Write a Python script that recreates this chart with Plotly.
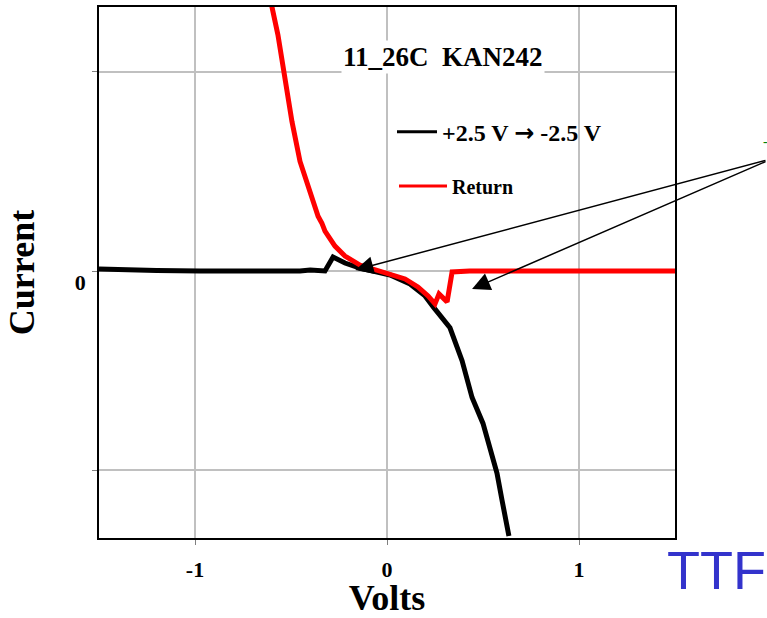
import plotly.graph_objects as go

# Black sweep: +2.5 V -> -2.5 V
sweep_v = [-1.5, -1.39, -1.2, -0.974, -0.75, -0.557, -0.453, -0.40, -0.323, -0.281,
           -0.219, -0.141, -0.0625, 0.016, 0.12, 0.198, 0.245, 0.286, 0.328, 0.391,
           0.443, 0.5, 0.536, 0.573, 0.599, 0.625, 0.635]
sweep_i = [0.01, 0.005, 0.002, 0.0, 0.0, -0.005, 0.0, 0.005, 0.0, 0.07,
           0.04, 0.015, 0.0, -0.02, -0.065, -0.125, -0.185, -0.235, -0.285, -0.45,
           -0.635, -0.765, -0.9, -1.015, -1.15, -1.265, -1.33]

# Red return sweep
ret_v = [-0.615, -0.599, -0.568, -0.542, -0.495, -0.453, -0.401, -0.359, -0.339, -0.323,
         -0.271, -0.219, -0.141, -0.0625, 0.016, 0.094, 0.161, 0.214, 0.25, 0.271,
         0.313, 0.339, 0.43, 0.8, 1.1, 1.5]
ret_i = [1.45, 1.325, 1.185, 1.015, 0.75, 0.55, 0.39, 0.275, 0.24, 0.2,
         0.125, 0.075, 0.03, 0.005, -0.015, -0.04, -0.08, -0.125, -0.165, -0.115,
         -0.155, -0.005, 0.0, 0.0, 0.0, 0.0]

x_ticks = [-1, 0, 1]
x_labels = ["-1", "0", "1"]
y_ticks = [-1, 0, 1]
y_labels = ["", "0", ""]

serif = "Liberation Serif, Times New Roman, serif"
arrow_span = '<span style="font-family:DejaVu Sans;font-weight:bold;font-size:24px">\u2192</span>'

fig = go.Figure()
fig.add_trace(go.Scatter(x=sweep_v, y=sweep_i, mode="lines",
                         line=dict(color="black", width=5), showlegend=False))
fig.add_trace(go.Scatter(x=ret_v, y=ret_i, mode="lines",
                         line=dict(color="#ff0000", width=5), showlegend=False))
# legend entries
fig.add_trace(go.Scatter(x=[None], y=[None], mode="lines",
                         name="+2.5 V " + arrow_span + " -2.5 V",
                         line=dict(color="black", width=3), legend="legend"))
fig.add_trace(go.Scatter(x=[None], y=[None], mode="lines", name="Return",
                         line=dict(color="#ff0000", width=3), legend="legend2"))

W, H = 767, 618
L, R, T, B = 99, 675, 5, 538

def px(xp):
    return (xp - L) / (R - L)

def py(yp):
    return (B - yp) / (B - T)

bold_tick = dict(family=serif, size=22, color="black", weight="bold")

fig.update_layout(
    width=W, height=H,
    margin=dict(l=L, r=W - R, t=T, b=H - B),
    paper_bgcolor="white", plot_bgcolor="white",
    font=dict(family=serif, color="black"),
    xaxis=dict(range=[-1.5, 1.5], tickvals=x_ticks, ticktext=x_labels,
               showgrid=True, gridcolor="#c0c0c0", gridwidth=2, zeroline=False,
               showline=True, linecolor="black", linewidth=1.5, mirror=True,
               ticks="outside", ticklen=5, tickcolor="#808080",
               tickfont=bold_tick, ticklabelstandoff=6,
               title=dict(text="<b>Volts</b>", font=dict(family=serif, size=36), standoff=0)),
    yaxis=dict(range=[-1.34, 1.325], tickvals=y_ticks, ticktext=y_labels,
               showgrid=True, gridcolor="#c0c0c0", gridwidth=2, zeroline=False,
               showline=True, linecolor="black", linewidth=1.5, mirror=True,
               ticks="outside", ticklen=5, tickcolor="#808080",
               tickfont=bold_tick, ticklabelstandoff=2, ticklabelshift=11,
               title=dict(text="<b>Current</b>", font=dict(family=serif, size=36), standoff=29)),
    legend=dict(x=px(392), y=py(108), xanchor="left", yanchor="top",
                bgcolor="rgba(0,0,0,0)", itemwidth=40,
                font=dict(family=serif, size=24, color="black", weight="bold")),
    legend2=dict(x=px(394), y=py(165), xanchor="left", yanchor="top",
                 bgcolor="rgba(0,0,0,0)", itemwidth=48,
                 font=dict(family=serif, size=20, color="black", weight="bold")),
)

annotations = [
    dict(text="<b>11_26C  KAN242</b>", x=px(443), y=py(55), xref="paper", yref="paper",
         showarrow=False, font=dict(family=serif, size=27, color="black"),
         bgcolor="white", xanchor="center", yanchor="middle"),
    dict(text="TTF", x=px(716), y=py(570), xref="paper", yref="paper",
         showarrow=False, font=dict(family="Liberation Sans, Arial, sans-serif", size=54,
                                    color="#3333cc"),
         xanchor="center", yanchor="middle"),
    dict(x=-0.165, y=0.005, xref="x", yref="y", ax=412, ay=-110,
         showarrow=True, arrowhead=2, arrowsize=2.4, arrowwidth=1.5, arrowcolor="black",
         text=""),
    dict(x=0.443, y=-0.09, xref="x", yref="y", ax=296, ay=-128,
         showarrow=True, arrowhead=2, arrowsize=2.4, arrowwidth=1.5, arrowcolor="black",
         text=""),
    dict(text="-", x=px(765), y=py(140), xref="paper", yref="paper", showarrow=False,
         font=dict(family=serif, size=14, color="green"), xanchor="center", yanchor="middle"),
]
fig.update_layout(annotations=annotations)

fig.write_html("out.html", config={"displayModeBar": False},
               post_script="document.body.style.margin='0';")
